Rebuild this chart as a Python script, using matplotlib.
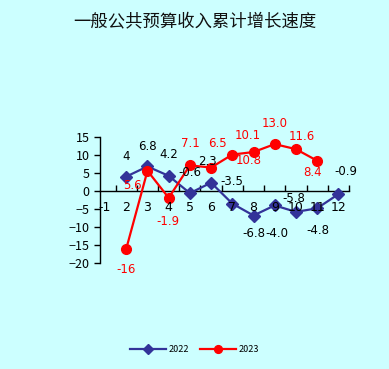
import matplotlib
matplotlib.use("Agg")
from matplotlib import pyplot as plt

plt.rcParams['font.family'] = ['Noto Sans CJK SC', 'DejaVu Sans']

# data
months_22 = [2, 3, 4, 5, 6, 7, 8, 9, 10, 11, 12]
vals_22 = [4, 6.8, 4.2, -0.6, 2.3, -3.5, -6.8, -4.0, -5.8, -4.8, -0.9]
labels_22 = ["4", "6.8", "4.2", "-0.6", "2.3", "-3.5", "-6.8", "-4.0", "-5.8", "-4.8", "-0.9"]

months_23 = [2, 3, 4, 5, 6, 7, 8, 9, 10, 11]
vals_23 = [-16, 5.6, -1.9, 7.1, 6.5, 10.1, 10.8, 13.0, 11.6, 8.4]
labels_23 = ["-16", "5.6", "-1.9", "7.1", "6.5", "10.1", "10.8", "13.0", "11.6", "8.4"]

tick_pos = [1, 2, 3, 4, 5, 6, 7, 8, 9, 10, 11, 12]
tick_txt = ["-1", "2", "3", "4", "5", "6", "7", "8", "9", "10", "11", "12"]

# label offsets in pixels (dx, dy), dy positive = up
off_22 = [(0, 20), (0, 20), (0, 21), (0, 21), (-4, 21), (0, 22), (0, -18),
          (2, -28), (-2, 13), (1, -22), (8, 23)]
off_23 = [(0, -21), (-15, -15), (-1, -24), (0, 22), (6, 24), (15, 19),
          (-5, -8), (0, 21), (6, 13), (-5, -12)]

bg = "#CCFFFF"
blue = "#333399"
red = "#FF0000"

fig = plt.figure(figsize=(3.89, 3.69), dpi=100, facecolor=bg)
ax = fig.add_axes([0.257, 0.287, 0.640, 0.342])
ax.set_facecolor(bg)

ax.plot(months_22, vals_22, color=blue, lw=1.6, marker="D", ms=6, label="2022", zorder=3)
ax.plot(months_23, vals_23, color=red, lw=1.6, marker="o", ms=7, label="2023", zorder=3)

for x, y, t, (dx, dy) in zip(months_22, vals_22, labels_22, off_22):
    ax.annotate(t, (x, y), xytext=(dx, dy), textcoords="offset pixels",
                ha="center", va="center", fontsize=8.5, color="black",
                family="DejaVu Sans")
for x, y, t, (dx, dy) in zip(months_23, vals_23, labels_23, off_23):
    ax.annotate(t, (x, y), xytext=(dx, dy), textcoords="offset pixels",
                ha="center", va="center", fontsize=8.5, color=red,
                family="DejaVu Sans")

ax.set_xlim(0.76, 12.5)
ax.set_ylim(-20, 15)
ax.set_yticks([-20, -15, -10, -5, 0, 5, 10, 15])
ax.tick_params(axis="y", labelsize=9, length=4, width=1, direction="out")

for s in ["top", "right"]:
    ax.spines[s].set_visible(False)
ax.spines["bottom"].set_position(("data", 0))
ax.spines["left"].set_linewidth(1)
ax.spines["bottom"].set_linewidth(1)

# category ticks sit between months, labels under each month
ax.set_xticks([i + 0.5 for i in range(1, 13)])
ax.set_xticklabels([])
ax.tick_params(axis="x", direction="in", length=4, width=1)
for p, t in zip(tick_pos, tick_txt):
    ax.annotate(t, (p, 0), xytext=(0, -17), textcoords="offset pixels",
                ha="center", va="center", fontsize=9, family="DejaVu Sans")

fig.text(0.5, 0.942, "一般公共预算收入累计增长速度", ha="center", va="center",
         fontsize=12.5, color="#111111")

fig.legend(loc="center", bbox_to_anchor=(0.5, 0.052), ncol=2, frameon=False,
           fontsize=6.5, handlelength=4, columnspacing=1.2, handletextpad=0.3,
           markerscale=0.8)

fig.savefig("out.png", dpi=100, facecolor=bg)
